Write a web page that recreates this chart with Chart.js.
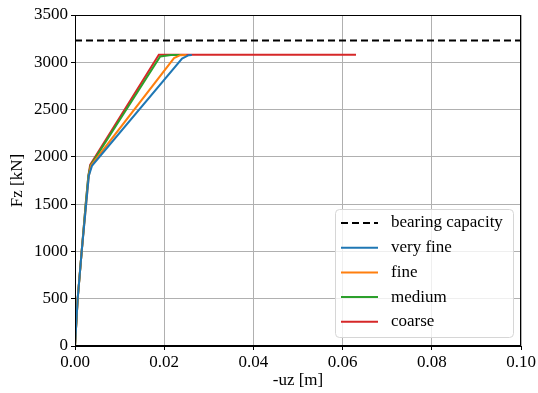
<!DOCTYPE html>
<html>
<head>
<meta charset="utf-8">
<script src="https://cdn.jsdelivr.net/npm/chart.js@4/dist/chart.umd.min.js"></script>
<style>
  html, body { margin: 0; padding: 0; background: #fff; }
  #box { width: 538px; height: 393px; }
</style>
</head>
<body>
<div id="box"><canvas id="myChart" width="538" height="393"></canvas></div>
<script>
// Datos (-uz [m] vs Fz [kN])
const capacidad = 3230;
const xTicks = [0, 0.02, 0.04, 0.06, 0.08, 0.10];
const yTicks = [0, 500, 1000, 1500, 2000, 2500, 3000, 3500];

const muyFinoX = [0, 0.0006, 0.0015, 0.0025, 0.0031, 0.0038, 0.0240, 0.0255, 0.0262];
const muyFinoY = [0, 500, 1000, 1500, 1800, 1905, 3040, 3075, 3078];

const finoX = [0, 0.0006, 0.0015, 0.0025, 0.0031, 0.0036, 0.0222, 0.0236, 0.0250];
const finoY = [0, 500, 1000, 1500, 1800, 1908, 3045, 3075, 3078];

const medioX = [0, 0.0006, 0.0015, 0.0024, 0.0030, 0.0035, 0.0191, 0.0215, 0.0240];
const medioY = [0, 500, 1000, 1500, 1800, 1910, 3062, 3076, 3078];

const gruesoX = [0, 0.0006, 0.0015, 0.0024, 0.0030, 0.0034, 0.0188, 0.0630];
const gruesoY = [0, 500, 1000, 1500, 1800, 1915, 3080, 3080];

const fuente = "'Liberation Serif', 'Times New Roman', serif";
const tam = 17;

function puntos(xs, ys) {
    return xs.map((x, i) => ({ x: x, y: ys[i] }));
}

// Marco completo (ejes arriba y a la derecha como matplotlib)
const marco = {
    id: 'marco',
    afterDraw(chart) {
        const ctx = chart.ctx;
        const a = chart.chartArea;
        ctx.save();
        ctx.strokeStyle = '#000';
        ctx.lineWidth = 1;
        ctx.strokeRect(a.left + 0.5, a.top + 0.5, a.right - a.left - 1, a.bottom - a.top - 1);
        ctx.restore();
    }
};

// Leyenda dentro del area, abajo a la derecha
const leyenda = {
    id: 'leyenda',
    afterDraw(chart) {
        const ctx = chart.ctx;
        const a = chart.chartArea;
        const w = 178, h = 128;
        const x0 = a.right - 8 - w;
        const y0 = a.bottom - 9 - h;
        ctx.save();
        ctx.beginPath();
        ctx.roundRect(x0 + 0.5, y0 + 0.5, w, h, 4);
        ctx.fillStyle = 'rgba(255,255,255,0.8)';
        ctx.fill();
        ctx.strokeStyle = '#d6d6d6';
        ctx.lineWidth = 1;
        ctx.stroke();
        ctx.font = tam + 'px ' + fuente;
        ctx.textBaseline = 'middle';
        chart.data.datasets.forEach((ds, i) => {
            const y = y0 + 14 + i * 24.7;
            ctx.beginPath();
            ctx.setLineDash(ds.borderDash || []);
            ctx.strokeStyle = ds.borderColor;
            ctx.lineWidth = 2;
            ctx.moveTo(x0 + 6, y);
            ctx.lineTo(x0 + 43, y);
            ctx.stroke();
            ctx.setLineDash([]);
            ctx.fillStyle = '#000';
            ctx.fillText(ds.label, x0 + 56, y);
        });
        ctx.restore();
    }
};

const data = {
    datasets: [
        {
            label: 'bearing capacity',
            data: [{ x: 0, y: capacidad }, { x: 0.1, y: capacidad }],
            borderColor: '#000',
            borderDash: [7, 4],
            borderWidth: 2
        },
        { label: 'very fine', data: puntos(muyFinoX, muyFinoY), borderColor: '#1f77b4', borderWidth: 2 },
        { label: 'fine', data: puntos(finoX, finoY), borderColor: '#ff7f0e', borderWidth: 2 },
        { label: 'medium', data: puntos(medioX, medioY), borderColor: '#2ca02c', borderWidth: 2 },
        { label: 'coarse', data: puntos(gruesoX, gruesoY), borderColor: '#d62728', borderWidth: 2 }
    ]
};

const config = {
    type: 'line',
    data: data,
    plugins: [marco, leyenda],
    options: {
        responsive: false,
        animation: false,
        layout: { padding: { top: 15, right: 17, left: 0, bottom: 0 } },
        elements: { point: { radius: 0 }, line: { tension: 0, fill: false } },
        plugins: { legend: { display: false }, tooltip: { enabled: false } },
        scales: {
            x: {
                type: 'linear',
                min: 0,
                max: 0.1,
                afterBuildTicks: scale => { scale.ticks = xTicks.map(v => ({ value: v })); },
                afterFit: scale => { scale.height = 47; },
                ticks: {
                    color: '#000',
                    padding: 2,
                    maxRotation: 0,
                    font: { family: fuente, size: tam },
                    callback: v => v.toFixed(2)
                },
                grid: { color: '#b0b0b0', tickColor: '#000', tickLength: 4 },
                border: { color: '#000' },
                title: {
                    display: true,
                    text: '-uz [m]',
                    color: '#000',
                    font: { family: fuente, size: tam },
                    padding: { top: 0, bottom: 2 }
                }
            },
            y: {
                min: 0,
                max: 3500,
                afterBuildTicks: scale => { scale.ticks = yTicks.map(v => ({ value: v })); },
                afterFit: scale => { scale.width = 75; },
                ticks: {
                    color: '#000',
                    padding: 3,
                    font: { family: fuente, size: tam },
                    callback: v => String(v)
                },
                grid: { color: '#b0b0b0', tickColor: '#000', tickLength: 4 },
                border: { color: '#000' },
                title: {
                    display: true,
                    text: 'Fz [kN]',
                    color: '#000',
                    font: { family: fuente, size: tam },
                    padding: { top: 7, bottom: 0 }
                }
            }
        }
    }
};

new Chart(document.getElementById('myChart'), config);
</script>
</body>
</html>
